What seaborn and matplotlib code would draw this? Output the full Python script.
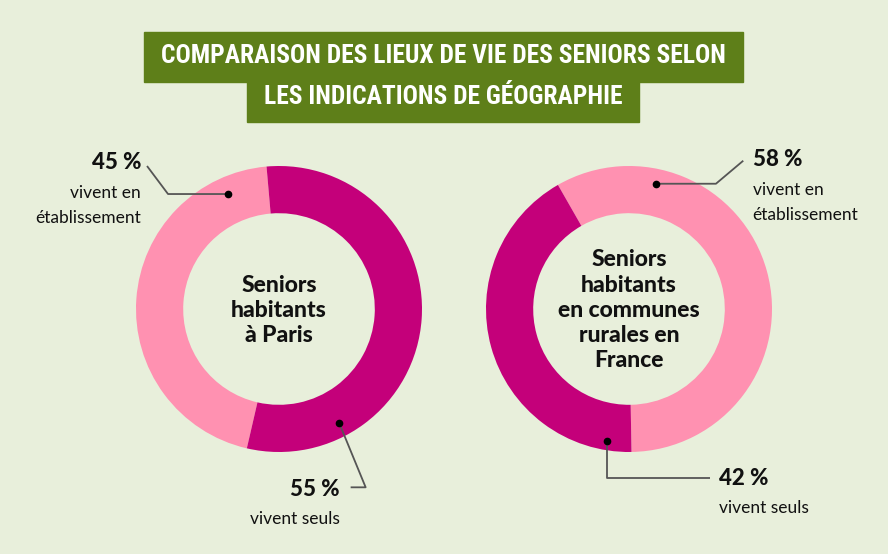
import matplotlib
matplotlib.use("Agg")
import matplotlib.pyplot as plt
import seaborn as sns
from matplotlib.patches import Rectangle

# data
groups = ["Seniors\nhabitants\nà Paris", "Seniors\nhabitants\nen communes\nrurales en\nFrance"]
categories = ["vivent en\nétablissement", "vivent seuls"]
paris_values = [45, 55]
rural_values = [58, 42]

bg_color = "#e8efdb"
title_color = "#5e7f19"
pink = "#ff91b1"
magenta = "#c4007a"
line_color = "#555555"

sns.set_theme(style="white", rc={"axes.facecolor": bg_color, "figure.facecolor": bg_color})
plt.rcParams["font.family"] = ["Lato", "DejaVu Sans"]

W, H = 888, 554
fig = plt.figure(figsize=(W / 100, H / 100), dpi=100)
fig.patch.set_facecolor(bg_color)

# title boxes (figure pixel coords -> fractions)
def px_rect(x0, y0, x1, y1):
    return (x0 / W, 1 - y1 / H), (x1 - x0) / W, (y1 - y0) / H

for (x0, y0, x1, y1) in [(144, 32, 743, 82), (247, 81, 639, 122)]:
    xy, w, h = px_rect(x0, y0, x1, y1)
    fig.patches.append(Rectangle(xy, w, h, transform=fig.transFigure, color=title_color, zorder=0))

title_font = ["Roboto Condensed", "Liberation Sans Narrow", "Roboto"]
fig.text(443.5 / W, 1 - 56 / H, "COMPARAISON DES LIEUX DE VIE DES SENIORS SELON",
         ha="center", va="center", color="white", fontsize=18.4, fontweight="bold", family=title_font)
fig.text(443 / W, 1 - 96.5 / H, "LES INDICATIONS DE GÉOGRAPHIE",
         ha="center", va="center", color="white", fontsize=18.4, fontweight="bold", family=title_font)

R = 143  # outer radius in px


def donut(cx, cy, values, colors, start, center_text):
    ax = fig.add_axes([(cx - R) / W, 1 - (cy + R) / H, 2 * R / W, 2 * R / H])
    ax.pie(values, colors=colors, startangle=start, counterclock=True, radius=1,
           wedgeprops=dict(width=0.33, linewidth=0))
    ax.set_xlim(-1, 1)
    ax.set_ylim(-1, 1)
    ax.axis("off")
    ax.text(0, -0.01, center_text, ha="center", va="center", fontsize=16.5, fontweight="black",
            linespacing=1.25, color="#111111")
    return ax


def leader(ax, pts):
    xs = [p[0] for p in pts]
    ys = [p[1] for p in pts]
    ax.plot(xs, ys, color=line_color, lw=1.3, clip_on=False, solid_capstyle="butt")
    ax.plot(xs[0], ys[0], "o", color="black", ms=4.5, clip_on=False)


def label(ax, x, y, value, desc, ha):
    ax.text(x, y, f"{value} %", ha=ha, va="center", fontsize=16, fontweight="black",
            color="#111111", clip_on=False)
    ax.text(x, y - 0.155, desc, ha=ha, va="top", fontsize=12.5, color="#111111",
            linespacing=1.7, clip_on=False)


# Paris
ax1 = donut(279, 309, paris_values, [pink, magenta], 95, groups[0])
leader(ax1, [(-0.357, 0.804), (-0.776, 0.804), (-0.923, 1.0)])
label(ax1, -0.965, 1.021, paris_values[0], categories[0], "right")
leader(ax1, [(0.42, -0.795), (0.606, -1.247), (0.501, -1.247)])
label(ax1, 0.427, -1.259, paris_values[1], categories[1], "right")

# communes rurales
ax2 = donut(629, 309, rural_values, [pink, magenta], -89, groups[1])
leader(ax2, [(0.189, 0.876), (0.608, 0.876), (0.799, 1.037)])
label(ax2, 0.865, 1.042, rural_values[0], categories[0], "left")
leader(ax2, [(-0.156, -0.921), (-0.156, -1.184), (0.566, -1.184)])
label(ax2, 0.631, -1.182, rural_values[1], categories[1], "left")

fig.savefig("out.png", dpi=100, facecolor=bg_color)
